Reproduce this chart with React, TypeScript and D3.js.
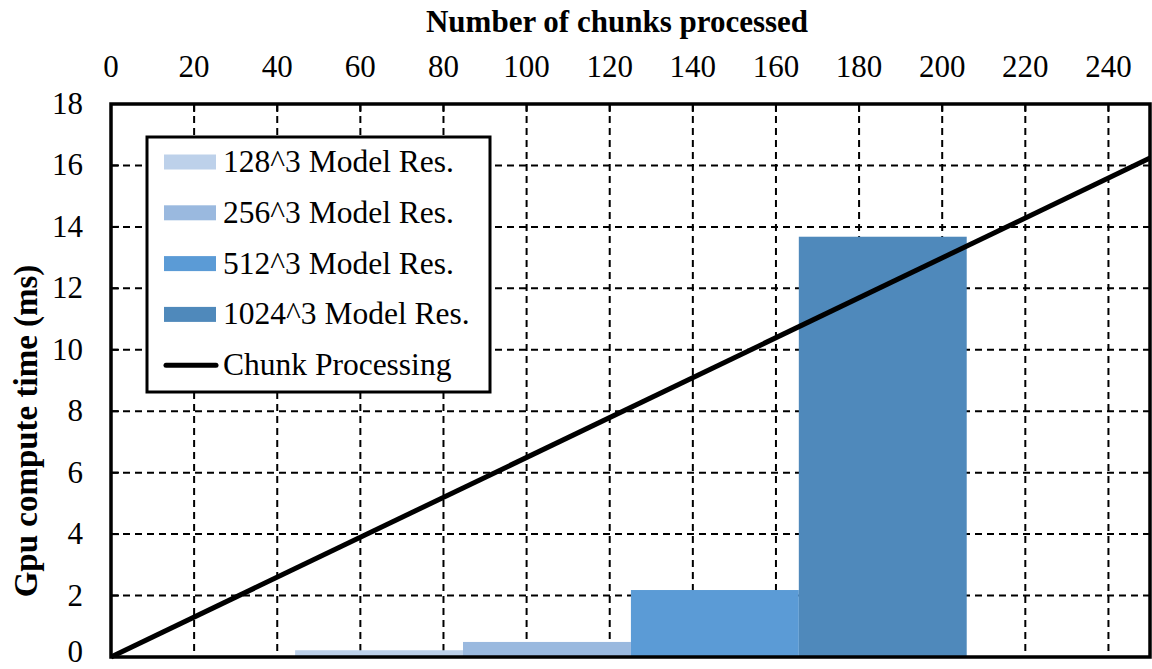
import React from "react";
import * as d3 from "d3";

// Chunk processing cost (line) and per-resolution GPU cost (bars)
const chunkCounts = [0, 250];
const chunkTimes = [0, 16.24];

const resolutionLabels = ["128^3 Model Res.", "256^3 Model Res.", "512^3 Model Res.", "1024^3 Model Res."];
const resolutionTimes = [0.22, 0.49, 2.18, 13.68];
// bin edges on the chunk axis for each resolution bar
const binEdges = [44.3, 84.7, 125.1, 165.5, 205.9];
const resolutionColors = ["#bdd1ea", "#9ab9df", "#5b9bd6", "#4f89bb"];

const xTicks = d3.range(0, 241, 20);
const yTicks = d3.range(0, 19, 2);

const W = 1152;
const H = 669;
const margin = { left: 111, right: 2, top: 104, bottom: 12 };

export default function App() {
  const x = d3.scaleLinear().domain([0, 250]).range([margin.left, W - margin.right]);
  const y = d3.scaleLinear().domain([0, 18]).range([H - margin.bottom, margin.top]);
  const line = d3
    .line<number>()
    .x((_, i) => x(chunkCounts[i]))
    .y((d) => y(d));

  const font = "'Liberation Serif', 'Times New Roman', serif";
  const x0 = x(0), x1 = x(250), y0 = y(0), y1 = y(18);

  const legendX = 147, legendY = 137, legendW = 343, legendH = 255;
  const rowY = (i: number) => 162 + i * 50.8;

  return (
    <svg width={W} height={H} style={{ position: "absolute", left: 0, top: 0, background: "#fff" }} fontFamily={font}>
      {/* grid */}
      {xTicks.filter((t) => t > 0).map((t) => (
        <line key={"gx" + t} x1={x(t)} x2={x(t)} y1={y1} y2={y0} stroke="#000" strokeWidth={2} strokeDasharray="7,5" />
      ))}
      {yTicks.filter((t) => t > 0 && t < 18).map((t) => (
        <line key={"gy" + t} x1={x0} x2={x1} y1={y(t)} y2={y(t)} stroke="#000" strokeWidth={2} strokeDasharray="7,5" />
      ))}

      {/* bars */}
      {resolutionTimes.map((v, i) => (
        <rect
          key={"b" + i}
          x={x(binEdges[i])}
          width={x(binEdges[i + 1]) - x(binEdges[i])}
          y={y(v)}
          height={y(0) - y(v)}
          fill={resolutionColors[i]}
        />
      ))}

      {/* chunk processing line */}
      <path d={line(chunkTimes) || ""} fill="none" stroke="#000" strokeWidth={5} />

      {/* frame */}
      <rect x={x0} y={y1} width={x1 - x0} height={y0 - y1} fill="none" stroke="#000" strokeWidth={3.5} />

      {/* ticks */}
      {xTicks.map((t) => (
        <g key={"tx" + t}>
          <line x1={x(t)} x2={x(t)} y1={y1} y2={y1 + 8} stroke="#000" strokeWidth={2} />
          <text x={x(t)} y={77} textAnchor="middle" fontSize={31}>
            {t}
          </text>
        </g>
      ))}
      {yTicks.map((t) => (
        <g key={"ty" + t}>
          <line x1={x0} x2={x0 + 8} y1={y(t)} y2={y(t)} stroke="#000" strokeWidth={2} />
          <text x={83} y={Math.min(y(t) + 10, H - 7)} textAnchor="end" fontSize={31}>
            {t}
          </text>
        </g>
      ))}

      {/* axis titles */}
      <text x={617} y={32} textAnchor="middle" fontSize={31} fontWeight="bold">
        Number of chunks processed
      </text>
      <text transform="translate(37,431) rotate(-90)" textAnchor="middle" fontSize={33} fontWeight="bold">
        Gpu compute time (ms)
      </text>

      {/* legend */}
      <rect x={legendX} y={legendY} width={legendW} height={legendH} fill="#fff" stroke="#000" strokeWidth={3} />
      {resolutionLabels.map((lab, i) => (
        <g key={"l" + i}>
          <rect x={164} y={rowY(i) - 7.5} width={52} height={15} fill={resolutionColors[i]} />
          <text x={223} y={rowY(i) + 10} fontSize={31.5}>
            {lab}
          </text>
        </g>
      ))}
      <line x1={166} x2={216} y1={rowY(4)} y2={rowY(4)} stroke="#000" strokeWidth={5} strokeLinecap="round" />
      <text x={223} y={rowY(4) + 10} fontSize={31.5}>
        Chunk Processing
      </text>
    </svg>
  );
}
